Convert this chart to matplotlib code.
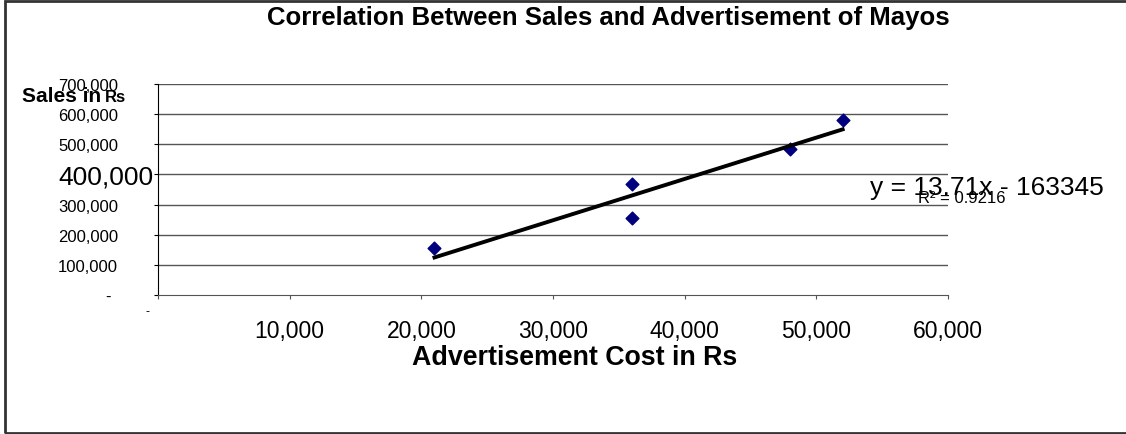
import matplotlib.pyplot as plt
from matplotlib.patches import Rectangle
from matplotlib.ticker import FuncFormatter
from matplotlib.transforms import ScaledTranslation

# advertisement cost (Rs) vs sales (Rs)
ad_cost = [21000, 36000, 36000, 48000, 52000]
sales = [155000, 368000, 255000, 484000, 580000]

# trendline as reported in the chart
slope = 13.71
intercept = -163345
r_squared = 0.9216

x_ticks = [0, 10000, 20000, 30000, 40000, 50000, 60000]
y_ticks = [0, 100000, 200000, 300000, 400000, 500000, 600000, 700000]


def fmt(v, pos=None):
    if v == 0:
        return "-"
    return f"{int(v):,}"


plt.rcParams["font.family"] = ["Liberation Sans", "DejaVu Sans"]

fig = plt.figure(figsize=(11.26, 4.35), dpi=100)
fig.patches.append(Rectangle((5 / 1126, 1 / 435), 1.2, 432 / 435, transform=fig.transFigure,
                             fill=False, edgecolor="#333333", linewidth=2))

ax = fig.add_axes([158 / 1126, 1 - 296 / 435, 790 / 1126, 211 / 435])
ax.set_xlim(0, 60000)
ax.set_ylim(0, 700000)

for y in y_ticks[1:]:
    ax.axhline(y, color="#555555", linewidth=1, zorder=1)

ax.scatter(ad_cost, sales, marker="D", s=42, color="#00007f", zorder=3)

x0, x1 = min(ad_cost), max(ad_cost)
ax.plot([x0, x1], [slope * x0 + intercept, slope * x1 + intercept],
        color="black", linewidth=2.8, zorder=4)

ax.set_xticks(x_ticks)
ax.set_yticks(y_ticks)
ax.xaxis.set_major_formatter(FuncFormatter(fmt))
ax.yaxis.set_major_formatter(FuncFormatter(fmt))
ax.tick_params(axis="x", direction="out", length=3, labelsize=16.5, pad=14, color="#555555")
ax.tick_params(axis="y", direction="out", length=3, labelsize=12, pad=69)

# y labels sit left-aligned far from the axis, like the original
for lab in ax.get_yticklabels():
    lab.set_horizontalalignment("left")
ylabs = ax.get_yticklabels()
ylabs[4].set_fontsize(19)
ylabs[0].set_x(0.0595)

xlabs = ax.get_xticklabels()
xlabs[0].set_fontsize(9)
xlabs[0].set_transform(xlabs[0].get_transform() + ScaledTranslation(-0.11, 0.14, fig.dpi_scale_trans))

for side in ["top", "right"]:
    ax.spines[side].set_visible(False)
ax.spines["left"].set_color("black")
ax.spines["bottom"].set_color("#555555")

fig.text(608 / 1126, 1 - 18 / 435, "Correlation Between Sales and Advertisement of Mayos",
         ha="center", va="center", fontsize=18.5, fontweight="bold")
ax.set_xlabel("Advertisement Cost in Rs", fontsize=19.3, fontweight="bold")
ax.xaxis.label.set_va("center")
ax.xaxis.set_label_coords(0.528, -0.294)
fig.text(22 / 1126, 1 - 97 / 435, "Sales in", ha="left", va="center", fontsize=15, fontweight="bold")
fig.text(105 / 1126, 1 - 98 / 435, "Rs", ha="left", va="center", fontsize=12, fontweight="bold")

fig.text(870 / 1126, 1 - 188 / 435, f"y = {slope}x - {abs(intercept)}",
         ha="left", va="center", fontsize=19)
fig.text(918 / 1126, 1 - 199 / 435, f"R² = {r_squared}", ha="left", va="center", fontsize=12)

fig.savefig("out.png", dpi=100)
